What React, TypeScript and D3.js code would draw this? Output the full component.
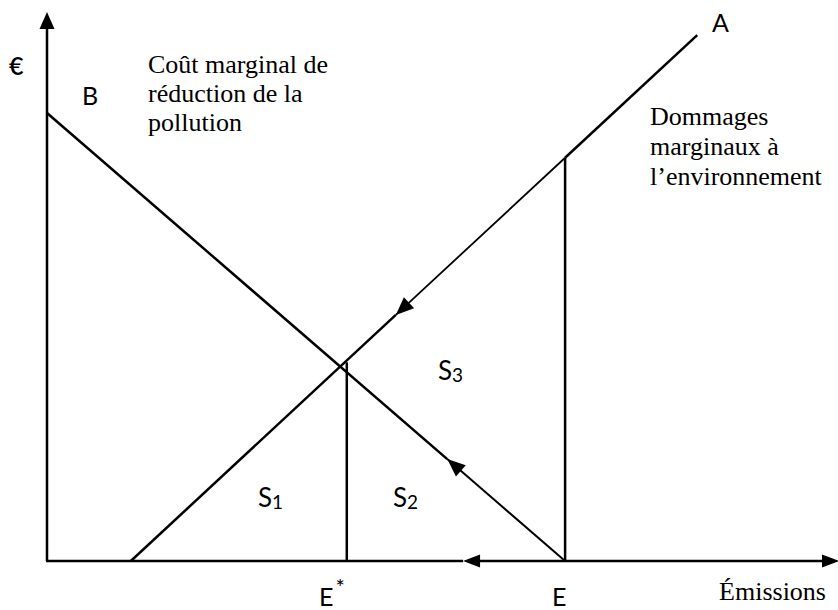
import React from "react";
import * as d3 from "d3";

// Diagram data in abstract units (emissions on x, € on y)
const xDomain = [0, 100];
const yDomain = [0, 100];
const damageLine = [
  { e: 10.6, v: 0 },
  { e: 82.2, v: 95.8 },
];
const costLine = [
  { e: 0, v: 81.6 },
  { e: 65.5, v: 0 },
];
const eStar = 37.9;
const eStarTop = 36.2;
const eLevel = 65.5;
const eLevelTop = 73.4;
const damageArrowTip = 44.1;
const costArrowTip = 50.6;
const axisArrowStart = 52.6;
const costLabel = ["Coût marginal de", "réduction de la", "pollution"];
const damageLabel = ["Dommages", "marginaux à", "l\u2019environnement"];

const W = 838;
const H = 610;

export default function App() {
  const x = d3.scaleLinear().domain(xDomain).range([47, 838]);
  const y = d3.scaleLinear().domain(yDomain).range([561, 12]);
  const line = d3
    .line<{ e: number; v: number }>()
    .x((d) => x(d.e))
    .y((d) => y(d.v));

  const dmg = (e: number) =>
    damageLine[0].v +
    ((damageLine[1].v - damageLine[0].v) / (damageLine[1].e - damageLine[0].e)) *
      (e - damageLine[0].e);
  const cost = (e: number) =>
    costLine[0].v +
    ((costLine[1].v - costLine[0].v) / (costLine[1].e - costLine[0].e)) *
      (e - costLine[0].e);

  const head = (tx: number, ty: number, fx: number, fy: number, len = 17, half = 7) => {
    const dx = tx - fx;
    const dy = ty - fy;
    const L = Math.hypot(dx, dy);
    const ux = dx / L;
    const uy = dy / L;
    const bx = tx - ux * len;
    const by = ty - uy * len;
    return `${tx},${ty} ${bx - uy * half},${by + ux * half} ${bx + uy * half},${by - ux * half}`;
  };

  const sans = "Lato, 'Open Sans', sans-serif";
  const serif = "'Liberation Serif', 'DejaVu Serif', serif";

  const dLow = [damageLine[0], { e: damageArrowTip, v: dmg(damageArrowTip) }];
  const dArrow = [{ e: eLevel, v: dmg(eLevel) }, { e: damageArrowTip, v: dmg(damageArrowTip) }];
  const dHigh = [{ e: eLevel, v: dmg(eLevel) }, damageLine[1]];
  const cMain = [costLine[0], { e: costArrowTip, v: cost(costArrowTip) }];
  const cArrow = [costLine[1], { e: costArrowTip, v: cost(costArrowTip) }];

  const daTip = [x(damageArrowTip), y(dmg(damageArrowTip))];
  const caTip = [x(costArrowTip), y(cost(costArrowTip))];

  return (
    <svg width={W} height={H} style={{ position: "absolute", left: 0, top: 0, background: "#fff" }}>
      <rect width={W} height={H} fill="#fff" />
      {/* y axis */}
      <line x1={x(0)} y1={y(0)} x2={x(0)} y2={y(yDomain[1]) + 14} stroke="#000" strokeWidth={2.5} />
      <polygon points={head(x(0), y(yDomain[1]), x(0), y(0), 17, 7.5)} fill="#000" />
      {/* x axis */}
      <line x1={x(0) - 1} y1={y(0)} x2={x(axisArrowStart)} y2={y(0)} stroke="#000" strokeWidth={2.5} />
      <line x1={x(axisArrowStart) + 12} y1={y(0)} x2={W - 12} y2={y(0)} stroke="#000" strokeWidth={2.5} />
      <polygon points={head(x(axisArrowStart), y(0), W, y(0), 17, 6.5)} fill="#000" />
      <polygon points={head(W + 1, y(0), x(axisArrowStart), y(0), 17, 6.5)} fill="#000" />

      {/* cost curve B */}
      <path d={line(cMain) || ""} stroke="#000" strokeWidth={2.5} fill="none" />
      <path d={line(cArrow) || ""} stroke="#000" strokeWidth={2} fill="none" />
      <polygon points={head(caTip[0], caTip[1], x(costLine[1].e), y(0), 18, 7.5)} fill="#000" />

      {/* damage curve A */}
      <path d={line(dLow) || ""} stroke="#000" strokeWidth={2.5} fill="none" />
      <path d={line(dArrow) || ""} stroke="#000" strokeWidth={1.8} fill="none" />
      <path d={line(dHigh) || ""} stroke="#000" strokeWidth={2.5} fill="none" />
      <polygon
        points={head(daTip[0], daTip[1], x(eLevel), y(dmg(eLevel)), 18, 7.5)}
        fill="#000"
      />

      {/* verticals */}
      <line x1={x(eStar)} y1={y(0)} x2={x(eStar)} y2={y(eStarTop)} stroke="#000" strokeWidth={2.5} />
      <line x1={x(eLevel)} y1={y(0)} x2={x(eLevel)} y2={y(eLevelTop)} stroke="#000" strokeWidth={2.5} />

      {/* labels */}
      <text x={9} y={75} fontFamily={sans} fontSize={25} fontWeight={600}>€</text>
      <text x={82} y={105} fontFamily={sans} fontSize={25}>B</text>
      <text x={712} y={32} fontFamily={sans} fontSize={25}>A</text>
      {costLabel.map((t, i) => (
        <text key={t} x={148} y={73 + i * 29} fontFamily={serif} fontSize={26}>{t}</text>
      ))}
      {damageLabel.map((t, i) => (
        <text key={t} x={650} y={125 + i * 30} fontFamily={serif} fontSize={26}>{t}</text>
      ))}
      <text x={258} y={507} fontFamily={sans} fontSize={26}>
        S<tspan fontSize={19} dy={2}>1</tspan>
      </text>
      <text x={393} y={507} fontFamily={sans} fontSize={26}>
        S<tspan fontSize={19} dy={2}>2</tspan>
      </text>
      <text x={438} y={380} fontFamily={sans} fontSize={26}>
        S<tspan fontSize={19} dy={2}>3</tspan>
      </text>
      <text x={319} y={606} fontFamily={sans} fontSize={25}>
        E<tspan fontSize={22} dx={2} dy={-11}>*</tspan>
      </text>
      <text x={552} y={606} fontFamily={sans} fontSize={25}>E</text>
      <text x={826} y={600} textAnchor="end" fontFamily={serif} fontSize={26}>Émissions</text>
    </svg>
  );
}
